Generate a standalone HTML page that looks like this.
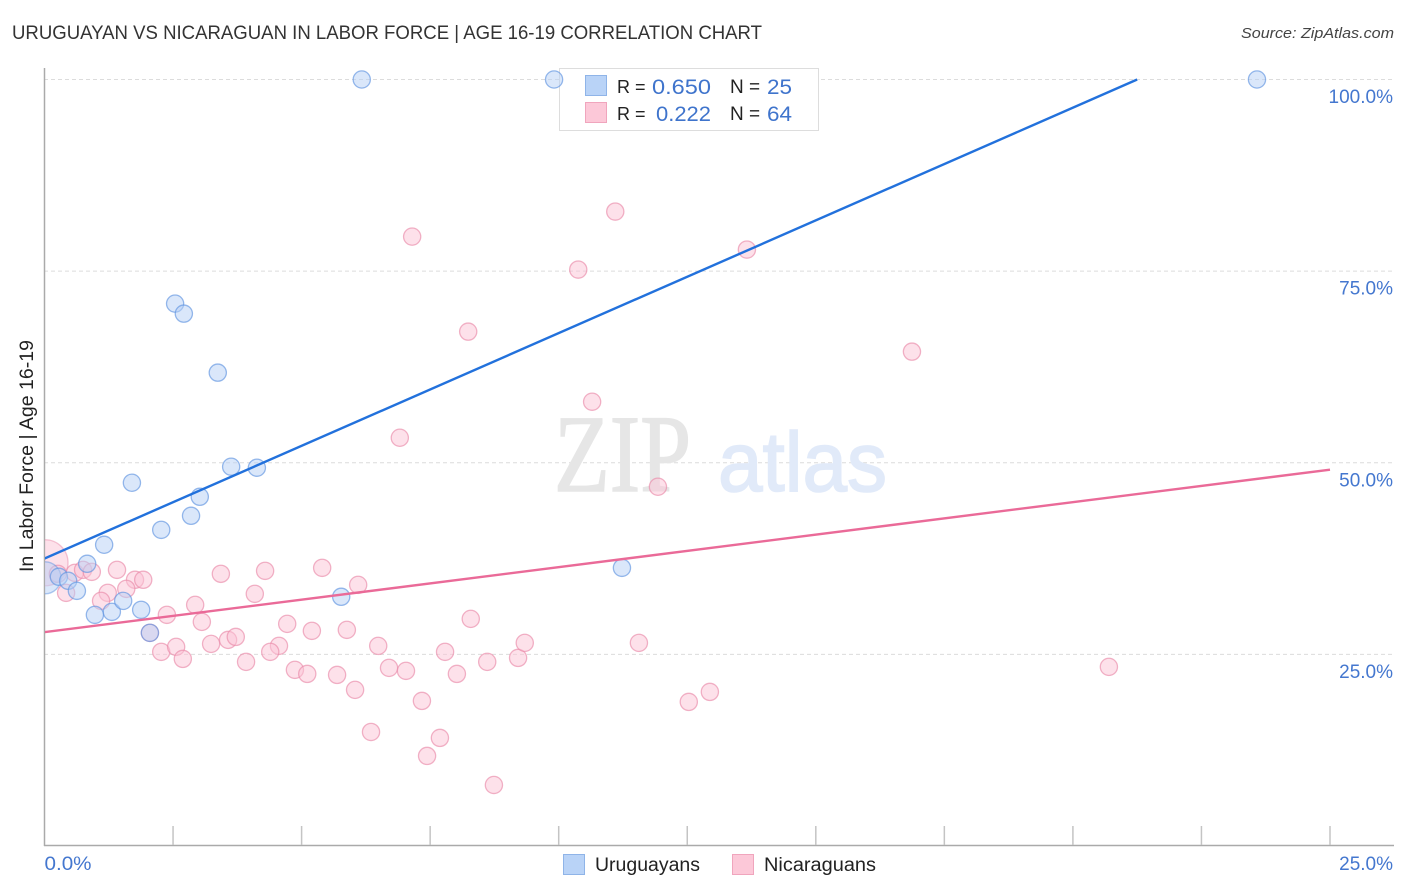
<!DOCTYPE html>
<html lang="en">
<head>
<meta charset="utf-8">
<title>Uruguayan vs Nicaraguan In Labor Force | Age 16-19 Correlation Chart</title>
<style>
html,body{margin:0;padding:0;background:#fff;width:1406px;height:892px;overflow:hidden}
svg{display:block;font-family:"Liberation Sans",sans-serif}
</style>
</head>
<body>
<svg id="chart" width="1406" height="892" viewBox="0 0 1406 892" xmlns="http://www.w3.org/2000/svg">
  <defs><clipPath id="plot-clip"><rect x="45" y="60" width="1349" height="786"/></clipPath></defs>
  <text x="12" y="39" font-size="19" fill="#333" textLength="750" lengthAdjust="spacingAndGlyphs">URUGUAYAN VS NICARAGUAN IN LABOR FORCE | AGE 16-19 CORRELATION CHART</text>
  <text x="1394" y="38" font-size="15" font-style="italic" fill="#444" text-anchor="end" textLength="153" lengthAdjust="spacingAndGlyphs">Source: ZipAtlas.com</text>

  <g id="grid"></g>

  <g>
    <text x="554" y="491" font-family="'Liberation Serif',serif" font-size="110" fill="#e6e6e6" stroke="#e6e6e6" stroke-width="1.6" textLength="137" lengthAdjust="spacingAndGlyphs">ZIP</text>
    <text x="718" y="491" font-size="84" fill="#e1eaf9" stroke="#e1eaf9" stroke-width="1.6" textLength="169" lengthAdjust="spacingAndGlyphs">atlas</text>
  </g>

  <g>
    <rect x="559.5" y="68.5" width="259" height="62" fill="#fff" stroke="#ddd"/>
    <rect x="585.5" y="75.5" width="21" height="20" fill="#b9d3f7" stroke="#8fb4e8"/>
    <rect x="585.5" y="102.5" width="21" height="20" fill="#fcc8d8" stroke="#f0a5bd"/>
    <text x="617" y="93" font-size="18" fill="#222">R =</text>
    <text x="652" y="94" font-size="21" fill="#3f74cc" textLength="59" lengthAdjust="spacingAndGlyphs">0.650</text>
    <text x="730" y="93" font-size="19" fill="#222">N =</text>
    <text x="767" y="94" font-size="21" fill="#3f74cc" textLength="25" lengthAdjust="spacingAndGlyphs">25</text>
    <text x="617" y="120" font-size="18" fill="#222">R =</text>
    <text x="656" y="121" font-size="21" fill="#3f74cc" textLength="55" lengthAdjust="spacingAndGlyphs">0.222</text>
    <text x="730" y="120" font-size="19" fill="#222">N =</text>
    <text x="767" y="121" font-size="21" fill="#3f74cc" textLength="25" lengthAdjust="spacingAndGlyphs">64</text>
  </g>

  <g id="axes"></g>
  <g id="marks" clip-path="url(#plot-clip)"></g>
  <g id="trends" clip-path="url(#plot-clip)"></g>

  <text transform="translate(33,572) rotate(-90)" font-size="19" fill="#222" textLength="232" lengthAdjust="spacingAndGlyphs">In Labor Force | Age 16-19</text>

  <g>
    <rect x="563.5" y="854.5" width="21" height="20" fill="#b9d3f7" stroke="#8fb4e8"/>
    <text x="595" y="871" font-size="19" fill="#222" textLength="105" lengthAdjust="spacingAndGlyphs">Uruguayans</text>
    <rect x="732.5" y="854.5" width="21" height="20" fill="#fcc8d8" stroke="#f0a5bd"/>
    <text x="764" y="871" font-size="19" fill="#222" textLength="112" lengthAdjust="spacingAndGlyphs">Nicaraguans</text>
  </g>
</svg>
<script>
const xTickValues = [0, 2.5, 5, 7.5, 10, 12.5, 15, 17.5, 20, 22.5, 25];
const xEdgeLabels = ["0.0%", "25.0%"];
const yTickValues = [25, 50, 75, 100];
const yTickLabels = ["25.0%", "50.0%", "75.0%", "100.0%"];

const uruguayanX = [0.01, 6.17, 9.91, 23.58, 2.54, 2.71, 3.37, 3.63, 4.13, 1.70, 3.02, 2.85, 2.27, 1.16, 0.83, 11.23, 5.77, 0.28, 0.46, 0.63, 0.98, 1.31, 1.53, 1.88, 2.05];
const uruguayanY = [34.99, 100, 100, 100, 70.76, 69.45, 61.75, 49.48, 49.35, 47.39, 45.56, 43.08, 41.25, 39.30, 36.82, 36.29, 32.51, 35.12, 34.60, 33.29, 30.16, 30.55, 31.98, 30.81, 27.81];

const nicaraguanX = [0.01, 11.10, 7.15, 10.38, 13.66, 8.24, 16.87, 10.65, 6.91, 11.93, 0.26, 0.59, 0.75, 0.92, 1.41, 1.76, 1.92, 1.59, 1.23, 1.10, 0.42, 2.38, 2.93, 3.06, 2.05, 2.27, 2.56, 2.69, 3.24, 3.57, 3.72, 3.43, 4.29, 4.09, 4.72, 4.56, 4.39, 3.92, 4.87, 5.40, 6.10, 5.20, 5.88, 5.11, 5.69, 6.04, 6.49, 6.70, 7.03, 7.34, 6.35, 7.44, 7.69, 7.79, 8.02, 8.29, 8.61, 8.74, 9.21, 9.34, 11.56, 12.53, 12.94, 20.70];
const nicaraguanY = [36.95, 82.77, 79.50, 75.20, 77.81, 67.10, 64.49, 57.96, 53.26, 46.87, 35.51, 35.64, 36.03, 35.77, 36.03, 34.73, 34.73, 33.55, 33.03, 31.98, 33.03, 30.16, 31.46, 29.24, 27.81, 25.33, 25.98, 24.41, 26.37, 26.89, 27.28, 35.51, 35.90, 32.90, 28.98, 26.11, 25.33, 24.02, 22.98, 36.29, 34.07, 28.07, 28.20, 22.45, 22.32, 20.37, 26.11, 23.24, 22.85, 18.93, 14.88, 11.75, 14.10, 25.33, 22.45, 29.63, 24.02, 7.96, 24.54, 26.50, 26.50, 18.80, 20.10, 23.37];

const uruguayanTrendX = [0, 21.25];
const uruguayanTrendY = [37.5, 100];
const nicaraguanTrendX = [0, 25];
const nicaraguanTrendY = [27.9, 49.1];

const NS = "http://www.w3.org/2000/svg";
const xScale = v => 44.5 + v * (1330 - 44.5) / 25;
const yScale = v => 846 - v * (846 - 79.5) / 100;

function make(parent, tag, attrs, text) {
  const el = document.createElementNS(NS, tag);
  for (const k in attrs) el.setAttribute(k, attrs[k]);
  if (text !== undefined) el.textContent = text;
  parent.appendChild(el);
  return el;
}

const grid = document.getElementById("grid");
yTickValues.forEach((v, i) => {
  const line = make(grid, "line", {x1: 44, x2: 1394, y1: yScale(v), y2: yScale(v), stroke: "#dcdcdc", "stroke-width": 1, "stroke-dasharray": "4 3"});
  
  
  const label = make(grid, "text", {x: 1393, y: yScale(v) + 23.5, "font-size": 19, fill: "#4477cf", "text-anchor": "end"}, yTickLabels[i]);
  
  
});

const axes = document.getElementById("axes");
const yAxis = make(axes, "line", {x1: 44.5, x2: 44.5, y1: 68, y2: 846, stroke: "#aaa", "stroke-width": 1.5});


const xAxis = make(axes, "line", {x1: 44, x2: 1394, y1: 845.5, y2: 845.5, stroke: "#aaa", "stroke-width": 1.5});


xTickValues.forEach(v => {
  if (v === 0) return;
  const tick = make(axes, "line", {x1: xScale(v), x2: xScale(v), y1: 826, y2: 845, stroke: "#c4c4c4", "stroke-width": 1.5});
  
  
});
const xStart = make(axes, "text", {x: xScale(0), y: 870, "font-size": 19, fill: "#4477cf", textLength: 47, lengthAdjust: "spacingAndGlyphs"}, xEdgeLabels[0]);


const xEnd = make(axes, "text", {x: 1393, y: 870, "font-size": 19, fill: "#4477cf", "text-anchor": "end"}, xEdgeLabels[1]);



const marks = document.getElementById("marks");
function drawSeries(xs, ys, fill, stroke, bigRadius) {
  xs.forEach((x, i) => {
    const c = make(marks, "circle", {
      cx: xScale(x), cy: yScale(ys[i]), r: i === 0 ? bigRadius : 8.6,
      fill: fill, "fill-opacity": 0.5,
      stroke: stroke, "stroke-opacity": i === 0 ? 0.5 : 0.65, "stroke-width": 1.3
    });
    
    
  });
}
drawSeries(nicaraguanX, nicaraguanY, "#fbc4d5", "#e98aa9", 23);
drawSeries(uruguayanX, uruguayanY, "#b5d0f6", "#5f94e0", 16);

const trends = document.getElementById("trends");
const t1 = make(trends, "line", {x1: xScale(uruguayanTrendX[0]), y1: yScale(uruguayanTrendY[0]), x2: xScale(uruguayanTrendX[1]), y2: yScale(uruguayanTrendY[1]), stroke: "#2271dc", "stroke-width": 2.4});


const t2 = make(trends, "line", {x1: xScale(nicaraguanTrendX[0]), y1: yScale(nicaraguanTrendY[0]), x2: xScale(nicaraguanTrendX[1]), y2: yScale(nicaraguanTrendY[1]), stroke: "#ea6a98", "stroke-width": 2.4});


</script>
</body>
</html>
